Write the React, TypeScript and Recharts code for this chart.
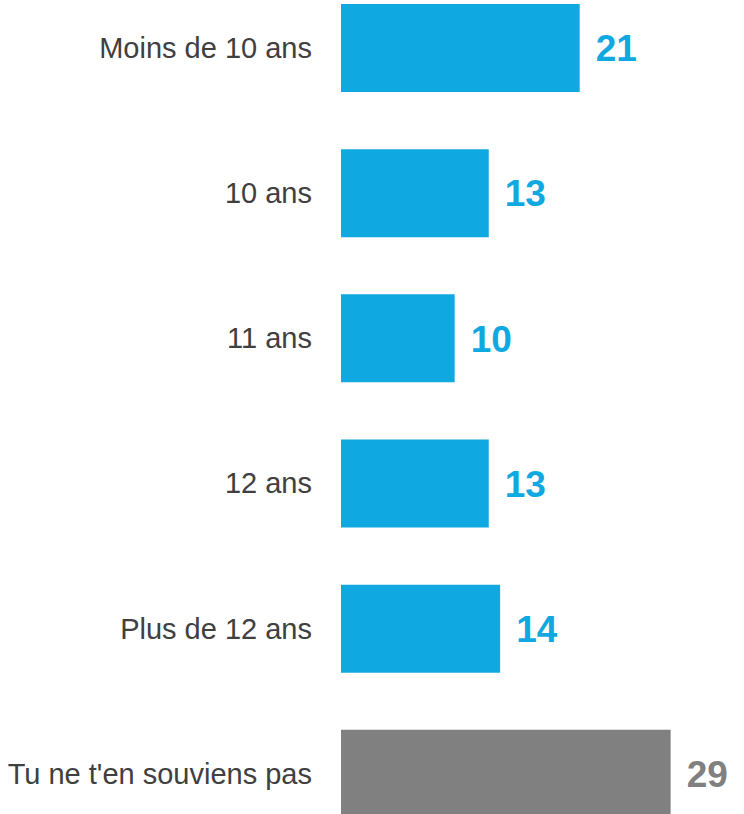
import { Bar, BarChart, Cell, LabelList, XAxis, YAxis } from 'recharts';

const categories = [
  'Moins de 10 ans',
  '10 ans',
  '11 ans',
  '12 ans',
  'Plus de 12 ans',
  "Tu ne t'en souviens pas",
];
const values = [21, 13, 10, 13, 14, 29];

const BLUE = '#10A8E0';
const GRAY = '#808080';
const FONT = '"Liberation Sans", Arial, sans-serif';

const data = categories.map((name, i) => ({ name, value: values[i] }));
const colorAt = (i: number) => (i === categories.length - 1 ? GRAY : BLUE);

function ValueLabel(props: any) {
  const { x, y, width, height, value, index } = props;
  return (
    <text
      x={x + width + 16}
      y={y + height / 2}
      dy="0.36em"
      fill={colorAt(index)}
      fontSize={37}
      fontWeight="bold"
      fontFamily={FONT}
    >
      {value}
    </text>
  );
}

export default function App() {
  return (
    <div
      style={{
        position: 'absolute',
        left: 0,
        top: 0,
        width: 744,
        height: 814,
        overflow: 'hidden',
        background: '#fff',
      }}
    >
      <div style={{ position: 'absolute', left: 0, top: -25 }}>
        <BarChart
          width={744}
          height={871}
          data={data}
          layout="vertical"
          margin={{ top: 0, right: 62, bottom: 0, left: 0 }}
        >
          <XAxis type="number" domain={[0, 30]} hide />
          <YAxis
            type="category"
            dataKey="name"
            width={341}
            axisLine={false}
            tickLine={false}
            tickSize={0}
            tickMargin={29}
            interval={0}
            tick={{ fill: '#404040', fontSize: 29, fontFamily: FONT }}
          />
          <Bar dataKey="value" barSize={88} isAnimationActive={false}>
            {data.map((d, i) => (
              <Cell key={d.name} fill={colorAt(i)} />
            ))}
            <LabelList dataKey="value" content={ValueLabel} />
          </Bar>
        </BarChart>
      </div>
    </div>
  );
}
